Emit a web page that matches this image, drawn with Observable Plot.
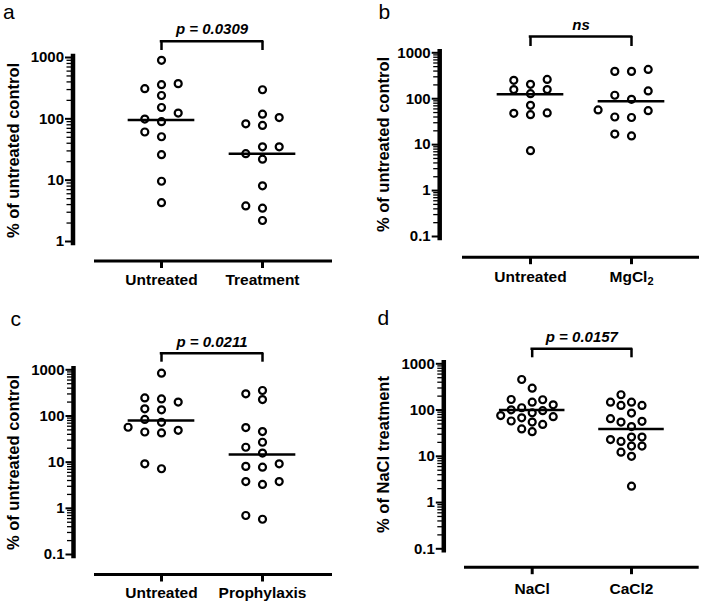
<!DOCTYPE html>
<html>
<head>
<meta charset="utf-8">
<script src="https://cdn.jsdelivr.net/npm/d3@7"></script>
<script src="https://cdn.jsdelivr.net/npm/@observablehq/plot@0.6"></script>
<style>
  html, body { margin: 0; padding: 0; background: #fff; }
  #fig { position: relative; width: 702px; height: 602px; background: #fff; }
  .panel { position: absolute; width: 351px; height: 301px; }
</style>
</head>
<body>
<div id="fig"></div>
<script>
// ---------- data ----------
// Panel a
const catsA = ["Untreated", "Treatment"];
const untreatedA = [900, 375, 360, 310, 240, 153, 124, 99, 90, 61, 51, 26, 9.6, 4.3];
const treatmentA = [298, 119, 105, 83, 78, 35, 35, 27, 22, 8.1, 3.8, 3.5, 2.2];
const centerA = [96, 27];
const noteA = "p = 0.0309";
const titleA = "% of untreated control";
const ticksA = [1, 10, 100, 1000];

// Panel b
const catsB = ["Untreated", "MgCl\u2082"];
const untreatedB = [263, 251, 206, 158, 158, 129, 72, 49, 48, 45, 7.4];
const mgcl2B = [435, 394, 394, 148, 119, 97, 57, 55, 40, 39, 17, 15.5];
const centerB = [125, 88];
const noteB = "ns";
const titleB = "% of untreated control";
const ticksB = [0.1, 1, 10, 100, 1000];

// Panel c
const catsC = ["Untreated", "Prophylaxis"];
const untreatedC = [845, 246, 234, 200, 143, 136, 84, 73, 57, 49, 45, 43, 9.2, 7.2];
const prophylaxisC = [356, 302, 227, 56, 46, 27, 21, 15.7, 9.2, 8.1, 7.8, 3.8, 3.8, 3.3, 0.70, 0.58];
const centerC = [80, 14.7];
const noteC = "p = 0.0211";
const titleC = "% of untreated control";
const ticksC = [0.1, 1, 10, 100, 1000];

// Panel d
const catsD = ["NaCl", "CaCl2"];
const naclD = [458, 297, 169, 167, 148, 130, 112, 101, 97, 87, 76, 72, 68, 58, 55, 49, 39, 34];
const cacl2D = [214, 148, 148, 126, 126, 86, 65, 57, 55, 44, 26, 26, 23, 21, 16.6, 16.6, 12.3, 10, 2.26];
const centerD = [100, 39];
const noteD = "p = 0.0157";
const titleD = "% of NaCl treatment";
const ticksD = [0.1, 1, 10, 100, 1000];

const letters = ["a", "b", "c", "d"];

// ---------- layout / style ----------
const FONT = '"Liberation Sans", Arial, Helvetica, sans-serif';
const W = 351, H = 301;

const panels = [
  {left: 0, top: 0, cats: catsA, groups: [untreatedA, treatmentA], centers: centerA, note: noteA, title: titleA, ticks: ticksA, letter: letters[0],
   g: {axisX: 72.5, yTop: 57, yBot: 241, xAxisY: 260.5, xStart: 95, xEnd: 330, c0: 161, c1: 262, bracketY: 40.7, legY: 50, noteY: 33, labelBase: 284, titleX: 13, titleY: 150, lx: 2.5, ly: 18, s: 16.7}},
  {left: 351, top: 0, cats: catsB, groups: [untreatedB, mgcl2B], centers: centerB, note: noteB, title: titleB, ticks: ticksB, letter: letters[1],
   g: {axisX: 88.2, yTop: 52.3, yBot: 236, xAxisY: 256.7, xStart: 112, xEnd: 346, c0: 179, c1: 280, bracketY: 36, legY: 46, noteY: 29, labelBase: 281, titleX: 32, titleY: 144, lx: 27, ly: 18, s: 16.7}},
  {left: 0, top: 301, cats: catsC, groups: [untreatedC, prophylaxisC], centers: centerC, note: noteC, title: titleC, ticks: ticksC, letter: letters[2],
   g: {axisX: 73, yTop: 68.3, yBot: 253, xAxisY: 273, xStart: 95, xEnd: 330, c0: 161, c1: 262, bracketY: 51.7, legY: 60.7, noteY: 45, labelBase: 296, titleX: 13, titleY: 161, lx: 10, ly: 24, s: 16.7}},
  {left: 351, top: 301, cats: catsD, groups: [naclD, cacl2D], centers: centerD, note: noteD, title: titleD, ticks: ticksD, letter: letters[3],
   g: {axisX: 92.3, yTop: 62.3, yBot: 247.3, xAxisY: 265.7, xStart: 114, xEnd: 345.7, c0: 180.7, c1: 280, bracketY: 47.3, legY: 56.3, noteY: 40, labelBase: 292, titleX: 32.3, titleY: 153, lx: 26, ly: 23, s: 10.5}}
];

// column-scatter layout: bottom-up, slots 0, -1, +1, -2, +2 ... avoiding vertical overlap
function swarm(py, s, d) {
  const order = d3.range(py.length).sort((i, j) => py[j] - py[i]);
  const cols = new Map();
  const off = new Array(py.length);
  for (const i of order) {
    for (let k = 0; k < 50; k++) {
      const slot = k === 0 ? 0 : (k % 2 ? -Math.ceil(k / 2) : Math.ceil(k / 2));
      const col = cols.get(slot) || [];
      if (col.every(y => Math.abs(y - py[i]) >= d)) {
        col.push(py[i]); cols.set(slot, col); off[i] = slot * s; break;
      }
    }
  }
  return off;
}

function makePanel(p) {
  const g = p.g;
  const domain = [p.ticks[0], p.ticks[p.ticks.length - 1]];
  const ymax = domain[1];
  const step = g.c1 - g.c0;
  const ysc = Plot.scale({y: {type: "log", domain, range: [g.yBot, g.yTop]}});
  const pts = [];
  p.groups.forEach((vals, ci) => {
    const off = swarm(vals.map(v => ysc.apply(v)), g.s, 9);
    vals.forEach((v, i) => pts.push({cat: ci, x: ci + off[i] / step, value: v}));
  });
  const centers = p.centers.map((v, ci) => ({cat: ci, value: v}));
  const minor = [];
  for (let dec = domain[0]; dec < domain[1] * 0.999; dec *= 10)
    for (let m = 2; m <= 9; m++) minor.push(+(dec * m).toPrecision(3));
  const marginTop = g.yTop - 1.5;
  const marginBottom = H - g.xAxisY;
  const frameMid = (marginTop + g.xAxisY) / 2;
  const xTick = 7.5;
  const catSize = 15.5;

  const svg = Plot.plot({
    width: W, height: H,
    marginLeft: g.axisX, marginTop, marginBottom, marginRight: W - g.xEnd,
    x: {domain: [-0.5, 1.5], range: [g.c0 - step / 2, g.c1 + step / 2], label: null},
    y: {type: "log", domain, range: [g.yBot, g.yTop], label: null},
    style: {fontFamily: FONT, fontWeight: "bold", color: "black", background: "white", overflow: "visible"},
    marks: [
      Plot.frame({anchor: "left", insetBottom: g.xAxisY - g.yBot - 1.5, strokeWidth: 4.5}),
      Plot.frame({anchor: "bottom", insetLeft: g.xStart - g.axisX, strokeWidth: 3}),
      Plot.axisY({ticks: minor, tickSize: 6, tickFormat: () => "", strokeWidth: 1.3, label: null}),
      Plot.axisY({ticks: p.ticks, tickSize: 7.5, tickPadding: 1.5, tickFormat: d => String(d), strokeWidth: 2, fontSize: 15, label: null}),
      Plot.axisX({ticks: [0, 1], tickFormat: i => p.cats[i], tickSize: xTick, tickPadding: g.labelBase - g.xAxisY - xTick - 0.71 * catSize, strokeWidth: 3, fontSize: catSize, label: null}),
      Plot.dot(pts, {x: "x", y: "value", r: 3.5, stroke: "black", strokeWidth: 2.2, fill: "white"}),
      Plot.ruleY(centers, {y: "value", x1: d => d.cat - 0.33, x2: d => d.cat + 0.33, strokeWidth: 2.5}),
      Plot.ruleY([ymax], {x1: 0, x2: 1, dy: g.bracketY - g.yTop, strokeWidth: 2.5, strokeLinecap: "square"}),
      Plot.ruleX([0, 1], {y1: ymax, y2: ymax, insetTop: g.bracketY - g.yTop, insetBottom: g.yTop - g.legY, strokeWidth: 2.5}),
      Plot.text([p.note], {text: d => d, x: 0.5, y: ymax, dy: g.noteY - g.yTop, lineAnchor: "bottom", fontSize: 15, fontStyle: "italic"}),
      Plot.text([p.title], {text: d => d, frameAnchor: "left", rotate: -90, dx: g.titleX - g.axisX, dy: g.titleY - frameMid, textAnchor: "middle", lineAnchor: "middle", fontSize: 16.5}),
      Plot.text([p.letter], {text: d => d, frameAnchor: "top-left", dx: g.lx - g.axisX, dy: g.ly - marginTop, textAnchor: "start", lineAnchor: "bottom", fontSize: 21, fontWeight: "normal"})
    ]
  });

  // chemical subscript
  svg.querySelectorAll("text").forEach(t => {
    if (t.children.length === 0 && t.textContent.includes("\u2082")) {
      const parts = t.textContent.split("\u2082");
      t.textContent = parts[0];
      const ts = document.createElementNS("http://www.w3.org/2000/svg", "tspan");
      ts.setAttribute("dy", "0.3em");
      ts.setAttribute("font-size", "11");
      ts.textContent = "2";
      t.appendChild(ts);
    }
  });

  const div = document.createElement("div");
  div.className = "panel";
  div.style.left = p.left + "px";
  div.style.top = p.top + "px";
  div.appendChild(svg);
  document.getElementById("fig").appendChild(div);
}

panels.forEach(makePanel);
</script>
</body>
</html>
